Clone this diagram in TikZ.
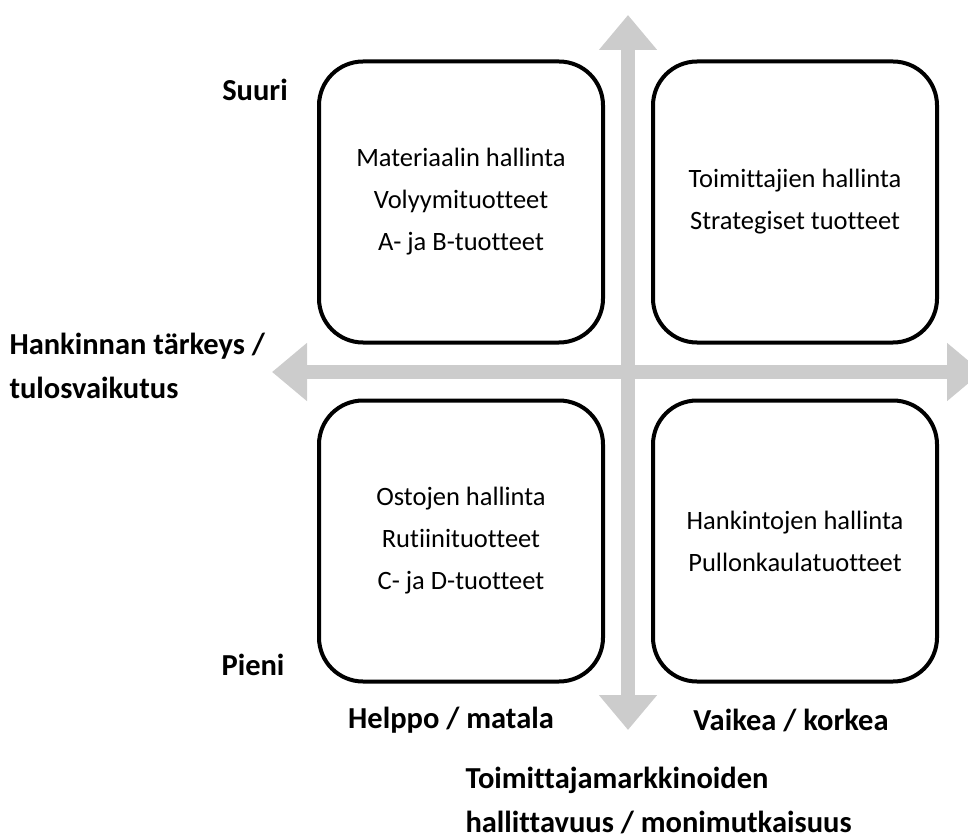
\documentclass[tikz,border=0pt]{standalone}
\usepackage{fontspec}
\setmainfont{Carlito}[Ligatures={NoCommon}]
\usetikzlibrary{arrows.meta}
\definecolor{axisgray}{RGB}{204,204,204}
\tikzset{
	quadrant/.style={draw, rounded corners=44pt, line width=4pt, minimum width=284pt, minimum height=281pt, align=center, font=\fontsize{26.5}{42}\selectfont},
	axislabel/.style={font=\bfseries\fontsize{30.5}{44}\selectfont},
	axisarrow/.style={axisgray, line width=14pt, {Triangle[width=56pt,length=35pt]}-{Triangle[width=56pt,length=35pt]}}
}
\begin{document}
\begin{tikzpicture}[x=1pt, y=-1pt]
		\useasboundingbox (0,0) rectangle (968,834);
		\node[quadrant] (1) at (461,202) {Materiaalin hallinta\\Volyymituotteet\\A-\ ja B-tuotteet};
		\node[quadrant] (2) at (795,202) {Toimittajien hallinta\\Strategiset tuotteet};
		\node[quadrant] (3) at (461,541) {Ostojen hallinta\\Rutiinituotteet\\C- ja D-tuotteet};
		\node[quadrant] (4) at (795,541) {Hankintojen hallinta\\Pullonkaulatuotteet};
		
		\coordinate (up) at (628,15);
		\coordinate (down) at (628,730);
		\coordinate (left) at (272,372);
		\coordinate (right) at (982,372);
		\draw[axisarrow] (down) to (up);
		\draw[axisarrow] (left) to (right);
		
		\node[axislabel] (suuri) at (255,90) {Suuri};
		\node[axislabel] (pieni) at (253,665) {Pieni};
		\node[axislabel, anchor=west, align=left] (tarkeys) at (6,366) {Hankinnan tärkeys /\\tulosvaikutus};
		\node[axislabel] (helppo) at (451,720) {Helppo / matala};
		\node[axislabel] (vaikea) at (791,720) {Vaikea / korkea};
		\node[axislabel, anchor=west, align=left] (markkinat) at (462,800) {Toimittajamarkkinoiden\\hallittavuus / monimutkaisuus};
		
	\end{tikzpicture}
\end{document}
